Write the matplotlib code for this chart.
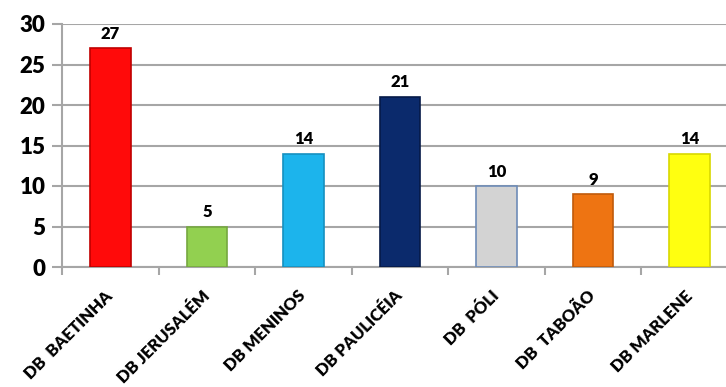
import matplotlib
matplotlib.use("Agg")
import matplotlib.pyplot as plt
from matplotlib.ticker import FixedLocator

categories = ["DB  BAETINHA", "DB JERUSALÉM", "DB MENINOS", "DB PAULICÉIA", "DB  PÓLI", "DB  TABOÃO", "DB MARLENE"]
values = [27, 5, 14, 21, 10, 9, 14]
colors = ["#FF0A0A", "#92D050", "#1CB4EC", "#0B2A6C", "#D3D3D3", "#EE7412", "#FFFF10"]
edges = ["#C00000", "#76A840", "#1590C0", "#061A48", "#6E8CB8", "#C05A0A", "#D8D800"]
yticks = [0, 5, 10, 15, 20, 25, 30]

plt.rcParams['font.family'] = ['Lato', 'DejaVu Sans']

fig = plt.figure(figsize=(7.26, 3.87), dpi=100)
ax = fig.add_axes([62/726, 1-267/387, (738-62)/726, (267-24)/387])

x = list(range(len(categories)))
ax.bar(x, values, width=0.42, color=colors, edgecolor=edges, linewidth=1.2, zorder=3)
for xi, v in zip(x, values):
    ax.text(xi, v + 0.8, str(v), ha='center', va='bottom', fontsize=12, fontweight='heavy', zorder=4)

ax.set_xlim(-0.5, len(categories) - 0.5)
ax.set_ylim(0, 30)
ax.set_yticks(yticks)
ax.set_yticklabels([str(t) for t in yticks])
for lab in ax.get_yticklabels():
    lab.set_fontsize(16)
    lab.set_fontweight('heavy')
ax.yaxis.grid(True, color='#A6A6A6', linewidth=1.5, zorder=0)
ax.tick_params(axis='y', length=7, width=1.5, color='#A6A6A6', pad=5)

ax.xaxis.set_major_locator(FixedLocator([i - 0.5 for i in range(len(categories) + 1)]))
ax.xaxis.set_minor_locator(FixedLocator(x))
ax.tick_params(axis='x', which='major', length=6, width=1.5, color='#A6A6A6', labelbottom=False)
ax.tick_params(axis='x', which='minor', length=0, pad=19)
ax.set_xticklabels(categories, minor=True)
for lab in ax.get_xticklabels(minor=True):
    lab.set_rotation(45)
    lab.set_ha('right')
    lab.set_va('center')
    lab.set_rotation_mode('anchor')
    lab.set_fontsize(12)
    lab.set_fontweight('heavy')

for s in ['top', 'right']:
    ax.spines[s].set_visible(False)
ax.spines['left'].set_color('#A6A6A6')
ax.spines['left'].set_linewidth(1.5)
ax.spines['bottom'].set_color('#A6A6A6')
ax.spines['bottom'].set_linewidth(1.5)

fig.savefig("out.png", dpi=100)
